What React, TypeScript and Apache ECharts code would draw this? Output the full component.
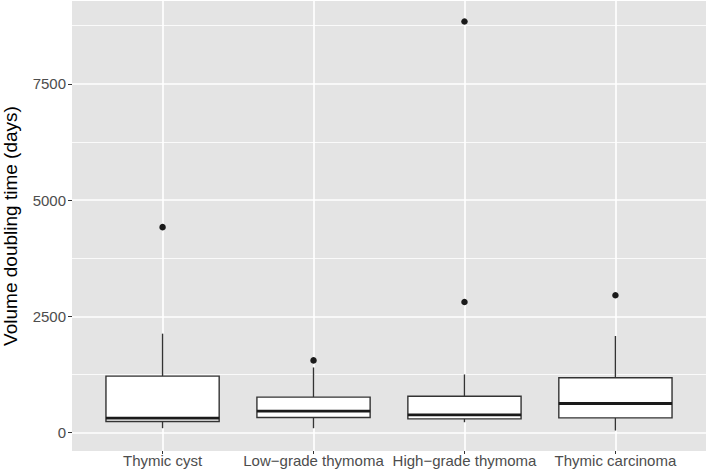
import React, { useEffect, useRef } from "react";
import * as echarts from "echarts";

const categories = ["Thymic cyst", "Low\u2212grade thymoma", "High\u2212grade thymoma", "Thymic carcinoma"];
const whiskerLow = [93, 93, 222, 43];
const q1 = [237, 323, 295, 316];
const median = [308, 459, 381, 625];
const q3 = [1213, 761, 782, 1178];
const whiskerHigh = [2127, 1400, 1250, 2076];
const outliers: [number, number][] = [
  [1, 4418],
  [2, 1552],
  [3, 2808],
  [3, 8842],
  [4, 2952],
];
const yMajorTicks = [0, 2500, 5000, 7500];
const yMinorTicks = [1250, 3750, 6250, 8750];
const xTicks = [1, 2, 3, 4];

const FONT = "'Liberation Sans', Arial, Helvetica, sans-serif";

export default function App() {
  const ref = useRef<HTMLDivElement>(null);
  useEffect(() => {
    if (!ref.current) return;
    const chart = echarts.init(ref.current, null, { renderer: "svg" });
    const boxData = categories.map((_, i) => [i + 1, whiskerLow[i], q1[i], median[i], q3[i], whiskerHigh[i]]);
    const yMin = -397;
    const yMax = 9282;
    chart.setOption({
      animation: false,
      backgroundColor: "#ffffff",
      grid: {
        left: 72,
        right: 3,
        top: 1,
        bottom: 21,
        show: true,
        backgroundColor: "#e4e4e4",
        borderWidth: 0,
        containLabel: false,
        outerBoundsMode: "none",
      },
      xAxis: {
        type: "value",
        min: 0.4,
        max: 4.6,
        axisLine: { show: false, onZero: false },
        axisTick: { show: true, length: 3, customValues: xTicks, lineStyle: { color: "#333333", width: 1 } },
        axisLabel: {
          customValues: xTicks,
          formatter: (v: number) => categories[Math.round(v) - 1] ?? "",
          color: "#4d4d4d",
          fontSize: 15,
          fontFamily: FONT,
          margin: 2,
          lineHeight: 15,
        },
        splitLine: { show: true, lineStyle: { color: "#ffffff", width: 1.6 } },
      },
      yAxis: [
        {
          type: "value",
          min: yMin,
          max: yMax,
          axisLine: { show: false, onZero: false },
          axisTick: { show: true, length: 4, customValues: yMajorTicks, lineStyle: { color: "#333333", width: 1 } },
          axisLabel: {
            customValues: yMajorTicks,
            formatter: (v: number) => String(Math.round(v)),
            color: "#4d4d4d",
            fontSize: 15,
            fontFamily: FONT,
            margin: 6,
          },
          splitLine: { show: true, lineStyle: { color: "#ffffff", width: 1.6 } },
          name: "Volume doubling time (days)",
          nameLocation: "middle",
          nameGap: 52,
          nameTextStyle: { color: "#000000", fontSize: 19, fontFamily: FONT, lineHeight: 19 },
        },
        {
          type: "value",
          min: yMin,
          max: yMax,
          position: "left",
          axisLine: { show: false, onZero: false },
          axisTick: { show: false, customValues: yMinorTicks },
          axisLabel: { show: false, customValues: yMinorTicks },
          splitLine: { show: true, lineStyle: { color: "#ffffff", width: 0.8 } },
        },
      ],
      series: [
        {
          type: "custom",
          xAxisIndex: 0,
          yAxisIndex: 0,
          data: boxData,
          z: 3,
          renderItem: (params: any, api: any) => {
            const x = api.value(0);
            const lo = api.value(1);
            const a = api.value(2);
            const m = api.value(3);
            const b = api.value(4);
            const hi = api.value(5);
            const half = api.size([0.375, 0])[0];
            const pLo = api.coord([x, lo]);
            const pA = api.coord([x, a]);
            const pM = api.coord([x, m]);
            const pB = api.coord([x, b]);
            const pHi = api.coord([x, hi]);
            const stroke = "#333333";
            return {
              type: "group",
              children: [
                {
                  type: "line",
                  shape: { x1: pHi[0], y1: pHi[1], x2: pB[0], y2: pB[1] },
                  style: { stroke, lineWidth: 1.4 },
                },
                {
                  type: "line",
                  shape: { x1: pA[0], y1: pA[1], x2: pLo[0], y2: pLo[1] },
                  style: { stroke, lineWidth: 1.4 },
                },
                {
                  type: "rect",
                  shape: { x: pB[0] - half, y: pB[1], width: half * 2, height: pA[1] - pB[1] },
                  style: { fill: "#ffffff", stroke, lineWidth: 1.4 },
                },
                {
                  type: "line",
                  shape: { x1: pM[0] - half, y1: pM[1], x2: pM[0] + half, y2: pM[1] },
                  style: { stroke: "#1a1a1a", lineWidth: 2.8 },
                },
              ],
            };
          },
        },
        {
          type: "scatter",
          xAxisIndex: 0,
          yAxisIndex: 0,
          data: outliers,
          symbol: "circle",
          symbolSize: 6.5,
          itemStyle: { color: "#1a1a1a", opacity: 1 },
          z: 4,
        },
      ],
    });
    return () => chart.dispose();
  }, []);
  return (
    <div
      ref={ref}
      style={{ position: "absolute", left: 0, top: 0, width: 709, height: 472, background: "#ffffff" }}
    />
  );
}
